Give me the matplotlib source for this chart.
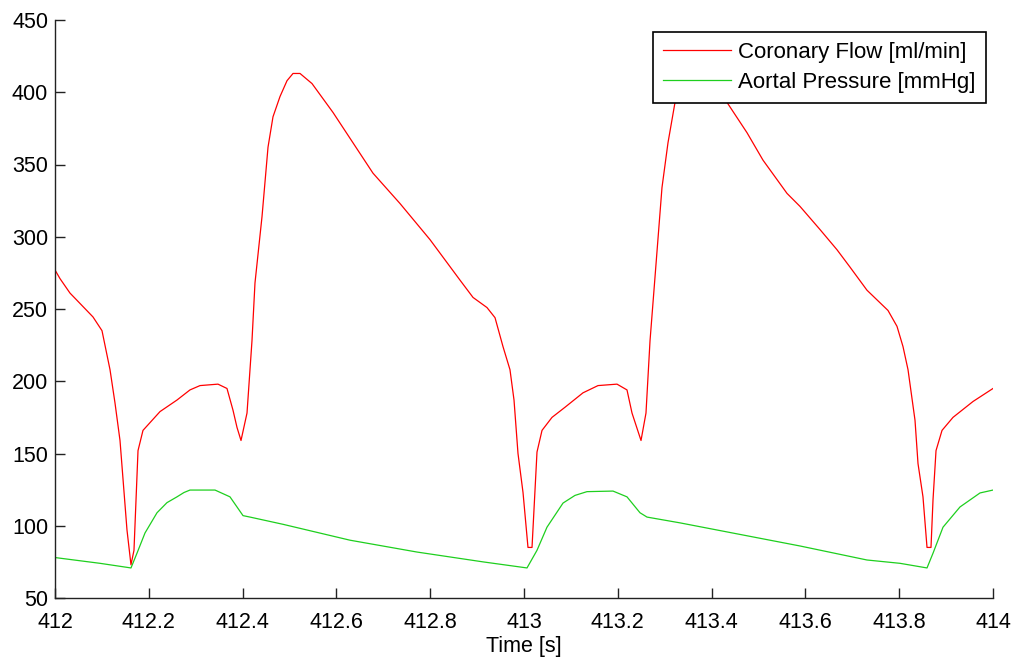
import matplotlib
matplotlib.use("Agg")
import matplotlib.pyplot as plt

plt.rcParams['font.family'] = ['Liberation Sans', 'DejaVu Sans']

# Coronary flow [ml/min]
flow_t = [412.0000, 412.0107, 412.0320, 412.0469, 412.0810, 412.1002, 412.1173, 412.1279,
          412.1386, 412.1535, 412.1620, 412.1684, 412.1770, 412.1876, 412.2239, 412.2601,
          412.2878, 412.3092, 412.3475, 412.3667, 412.3795, 412.3881, 412.3966, 412.4094,
          412.4200, 412.4264, 412.4414, 412.4542, 412.4648, 412.4797, 412.4947, 412.5075,
          412.5224, 412.5480, 412.5928, 412.6354, 412.6780, 412.7356, 412.7996, 412.8635,
          412.8913, 412.9211, 412.9382, 412.9552, 412.9701, 412.9787, 412.9872, 412.9979,
          413.0085, 413.0171, 413.0277, 413.0384, 413.0597, 413.0874, 413.1258, 413.1578,
          413.1983, 413.2196, 413.2303, 413.2495, 413.2601, 413.2687, 413.2793, 413.2942,
          413.3070, 413.3220, 413.3412, 413.3582, 413.3753, 413.4009, 413.4328, 413.4755,
          413.5096, 413.5608, 413.5885, 413.6311, 413.6674, 413.6951, 413.7313, 413.7761,
          413.7953, 413.8081, 413.8188, 413.8337, 413.8401, 413.8507, 413.8593, 413.8678,
          413.8721, 413.8785, 413.8913, 413.9147, 413.9574, 414.0000]
flow = [277, 271, 261, 256, 244.5, 235, 208, 185,
        159, 97, 73, 83, 152, 166, 179, 187,
        194, 197, 198, 195, 180, 168, 159, 178,
        228, 268, 314, 362, 383, 397, 408, 413,
        413, 406, 386, 365, 344, 323, 298, 270,
        258, 251, 244, 224, 208, 187, 150, 123,
        85, 85, 151, 166, 175, 182, 192, 197,
        198, 194, 178, 159, 178, 228, 272, 334,
        365, 393, 405, 412, 412, 405, 393, 372,
        353, 330, 321, 305, 291, 279, 263, 249,
        238, 224, 208, 173, 143, 120, 85, 85,
        118, 152, 166, 175, 186, 195]

# Aortal pressure [mmHg]
pres_t = [412.0000, 412.0959, 412.1620, 412.1748, 412.1919, 412.2175, 412.2388, 412.2601,
          412.2750, 412.2878, 412.3412, 412.3731, 412.4009, 412.4158, 412.4861, 412.6290,
          412.7719, 412.9126, 413.0064, 413.0277, 413.0490, 413.0832, 413.1087, 413.1343,
          413.1898, 413.2196, 413.2473, 413.2623, 413.3326, 413.5885, 413.7313, 413.8017,
          413.8593, 413.8721, 413.8934, 413.9296, 413.9723, 414.0000]
pres = [78, 74, 70.8, 81, 95, 109, 116, 120,
        123, 124.7, 124.7, 120, 107, 106, 101, 90,
        81.8, 75, 70.8, 83, 99, 115.7, 121, 123.6,
        124, 120, 109, 106, 102, 86, 76.3, 74,
        70.8, 81, 99, 113, 122.7, 124.7]

x_ticks = [412, 412.2, 412.4, 412.6, 412.8, 413, 413.2, 413.4, 413.6, 413.8, 414]
x_labels = ['412', '412.2', '412.4', '412.6', '412.8', '413', '413.2', '413.4',
            '413.6', '413.8', '414']
y_ticks = [50, 100, 150, 200, 250, 300, 350, 400, 450]

fig = plt.figure(figsize=(10.15, 6.61), dpi=100)
ax = fig.add_axes([55 / 1015, 63 / 661, 938 / 1015, 578 / 661])

ax.plot(flow_t, flow, color='#ff0000', lw=0.9, label='Coronary Flow [ml/min]')
ax.plot(pres_t, pres, color='#1ecf1e', lw=0.9, label='Aortal Pressure [mmHg]')

ax.set_xlim(412, 414)
ax.set_ylim(50, 450)
ax.set_xticks(x_ticks)
ax.set_xticklabels(x_labels)
ax.set_yticks(y_ticks)
ax.tick_params(direction='in', length=7, width=1, labelsize=15.5, colors='#222222',
               labelcolor='black')
ax.tick_params(axis='y', pad=5)
ax.tick_params(axis='x', pad=10)
for s in ['top', 'right']:
    ax.spines[s].set_visible(False)
for s in ['left', 'bottom']:
    ax.spines[s].set_color('#222222')
    ax.spines[s].set_linewidth(1)

ax.set_xlabel('Time [s]', fontsize=15.5, labelpad=2)

leg = ax.legend(loc='upper right', bbox_to_anchor=(986 / 1015, 1 - 32 / 661),
                bbox_transform=fig.transFigure, fontsize=16, frameon=True,
                fancybox=False, framealpha=1, edgecolor='black',
                handlelength=3.05, handletextpad=0.36, borderpad=0.45,
                labelspacing=0.4, borderaxespad=0)
leg.get_frame().set_linewidth(1.2)

fig.savefig('out.png', dpi=100)
